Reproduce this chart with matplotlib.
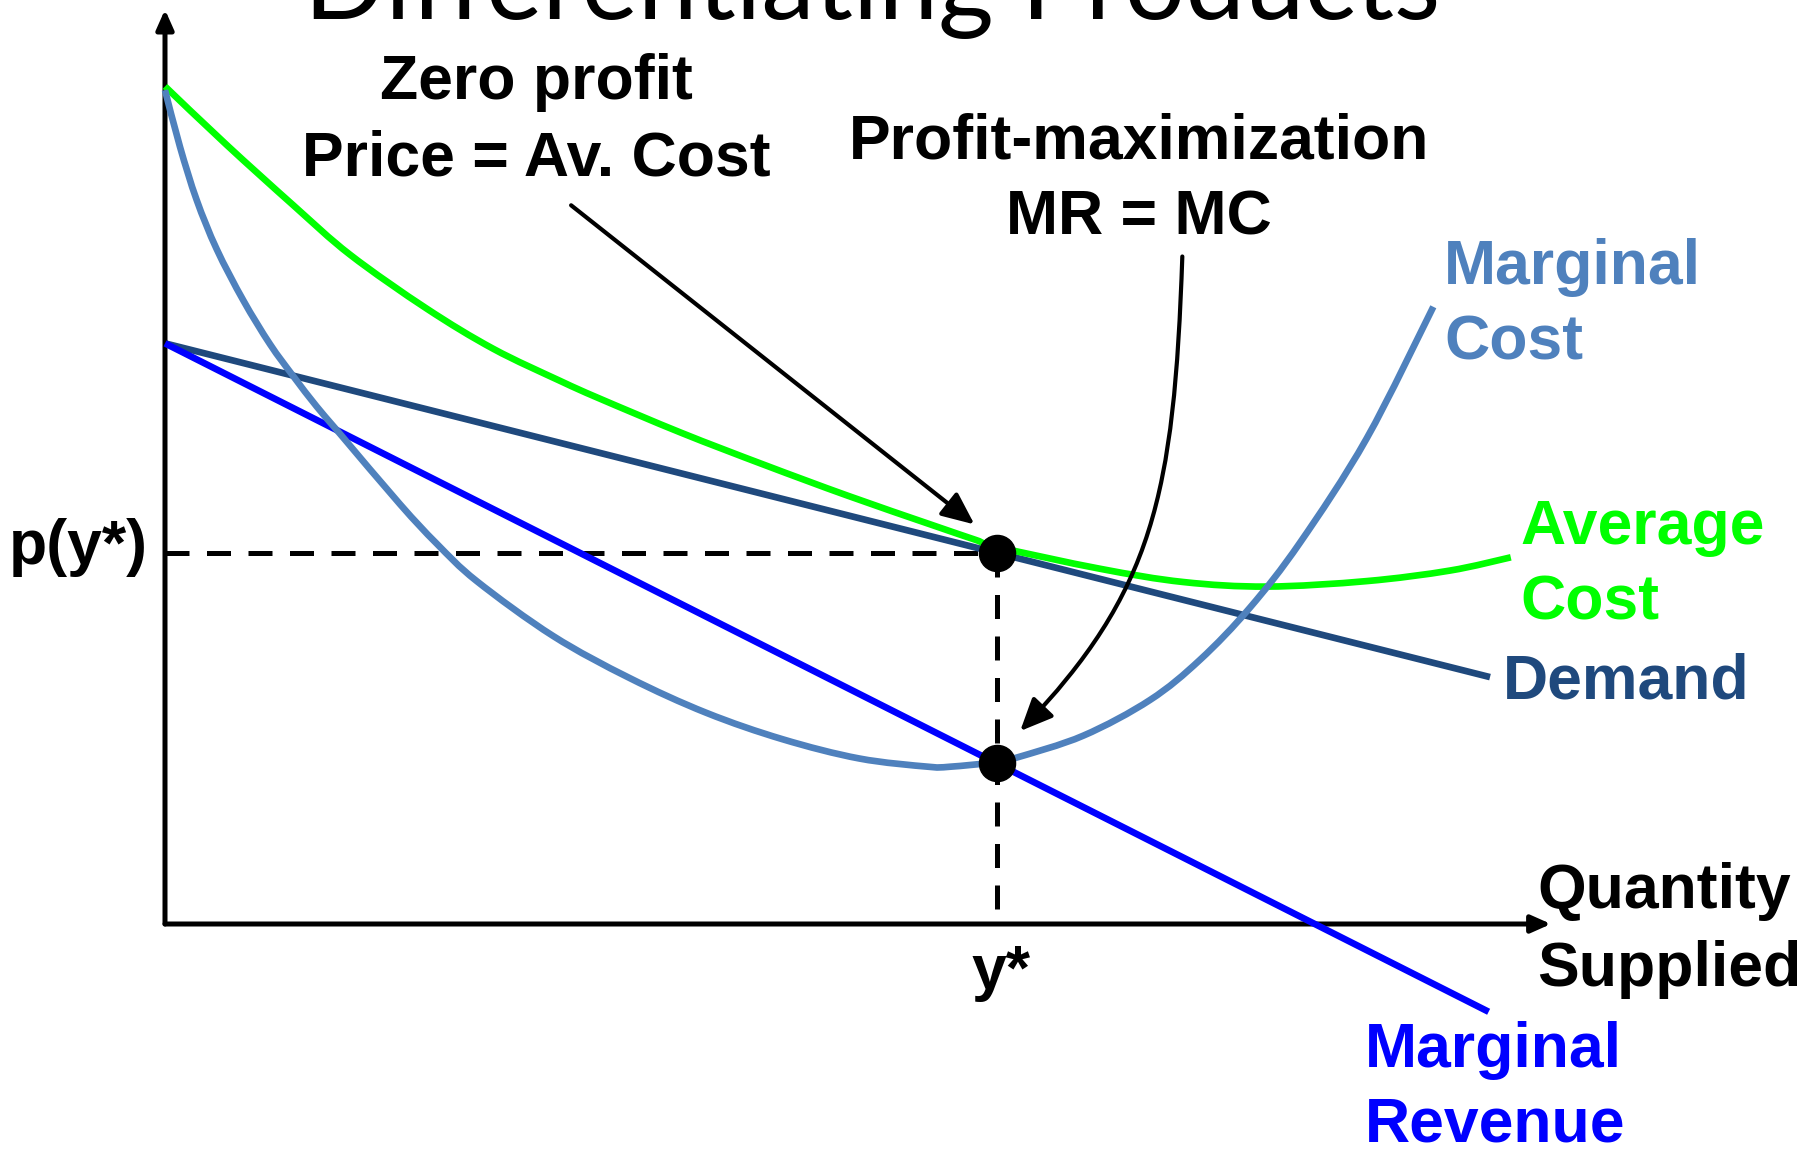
import matplotlib.pyplot as plt
from matplotlib.path import Path
from matplotlib.patches import FancyArrowPatch, PathPatch

# quantity (q) runs 0..100 along the x axis, price (p) 0..100 up the y axis
q_star = 60

demand_q = [0, 95.6]
demand_p = [63.5, 27.0]

mr_q = [0, 95.5]
mr_p = [63.5, -9.6]

ac_q = [0, 4.45, 9.26, 13.35, 18.88, 23.69, 28.5, 31.3, 37.28, 43.26, 49.24, 55.22, 58.5, 60.0,
        67.46, 73.47, 79.49, 86.7, 92.7, 97.1]
ac_p = [91.6, 85.2, 78.6, 73.2, 67.3, 62.9, 59.4, 57.5, 53.7, 50.2, 46.85, 43.7, 42.0, 41.25,
        38.85, 37.4, 36.9, 37.5, 38.65, 40.1]

mc_q = [0, 1.08, 2.28, 3.73, 5.65, 7.58, 9.26, 10.94, 12.63, 16.96, 19.6, 22.49, 28.0, 33.52,
        39.05, 44.57, 50.09, 55.06, 56.64, 60.0, 61.45, 66.26, 71.07, 74.68, 78.28, 81.89,
        86.7, 91.51]
mc_p = [91.2, 85.0, 79.2, 73.8, 68.2, 63.4, 59.9, 56.6, 53.6, 45.9, 41.6, 37.5, 31.5, 26.9,
        23.1, 20.2, 18.1, 17.2, 17.2, 17.7, 18.2, 20.6, 24.5, 28.9, 34.6, 41.7,
        53.1, 67.5]

c_mc = '#4F81BD'
c_ac = '#00FF00'
c_demand = '#1F497D'
c_mr = '#0000FF'


def smooth_path(xs, ys):
    # Catmull-Rom curve through every point, written as cubic Bezier segments
    pts = list(zip(xs, ys))
    verts = [pts[0]]
    codes = [Path.MOVETO]
    for i in range(len(pts) - 1):
        p0 = pts[max(i - 1, 0)]
        p1 = pts[i]
        p2 = pts[i + 1]
        p3 = pts[min(i + 2, len(pts) - 1)]
        c1 = (p1[0] + (p2[0] - p0[0]) / 6, p1[1] + (p2[1] - p0[1]) / 6)
        c2 = (p2[0] - (p3[0] - p1[0]) / 6, p2[1] - (p3[1] - p1[1]) / 6)
        verts += [c1, c2, p2]
        codes += [Path.CURVE4] * 3
    return Path(verts, codes)


# price and MR at y* read straight off the demand and MR lines
p_star = demand_p[0] + (demand_p[1] - demand_p[0]) * q_star / demand_q[1]
mr_star = mr_p[0] + (mr_p[1] - mr_p[0]) * q_star / mr_q[1]

fig = plt.figure(figsize=(18.08, 11.49), dpi=100)
ax = fig.add_axes([165 / 1808, 225 / 1149, 1386 / 1808, 914.4 / 1149])
ax.set_xlim(0, 100)
ax.set_ylim(0, 100)
ax.axis('off')

bold = dict(family='Liberation Sans', weight='bold', fontsize=45)

# axes with arrow heads
axis_arrow = dict(arrowstyle='-|>,head_length=0.45,head_width=0.2', lw=3.6, color='black',
                  mutation_scale=26, shrinkA=0, shrinkB=0)
ax.annotate('', xy=(100, 0), xytext=(0, 0), arrowprops=axis_arrow, annotation_clip=False)
ax.annotate('', xy=(0, 100), xytext=(0, 0), arrowprops=axis_arrow, annotation_clip=False)

# dashed guides to p(y*) and y*
dash = (0, (4.8, 3.5))
ax.plot([0, q_star], [p_star, p_star], color='black', lw=3.6, ls=dash, zorder=1)
ax.plot([q_star, q_star], [p_star, 0], color='black', lw=3.6, ls=dash, zorder=1)

lw = 4.8
ax.plot(demand_q, demand_p, color=c_demand, lw=lw, solid_capstyle='butt', zorder=2, clip_on=False)
ax.plot(mr_q, mr_p, color=c_mr, lw=lw, solid_capstyle='butt', zorder=3, clip_on=False)
ax.add_patch(PathPatch(smooth_path(ac_q, ac_p), fill=False, edgecolor=c_ac, lw=lw,
                       capstyle='butt', zorder=4, clip_on=False))
ax.add_patch(PathPatch(smooth_path(mc_q, mc_p), fill=False, edgecolor=c_mc, lw=lw,
                       capstyle='butt', zorder=5, clip_on=False))

ax.plot([q_star, q_star], [p_star, mr_star], 'o', color='black', ms=26, zorder=8, clip_on=False)

# annotation arrows
head = '-|>,head_length=0.45,head_width=0.2'
ax.add_patch(FancyArrowPatch((29.3, 78.6), (58.4, 43.7), arrowstyle=head, mutation_scale=44,
                             lw=3.0, color='black', shrinkA=0, shrinkB=0, zorder=6))
curve = Path([(73.4, 73.0), (72.8, 46.8), (71.3, 36.3), (61.7, 21.1)],
             [Path.MOVETO, Path.CURVE4, Path.CURVE4, Path.CURVE4])
ax.add_patch(FancyArrowPatch(path=curve, arrowstyle=head, mutation_scale=44,
                             lw=3.0, color='black', zorder=6))

# text
ax.text(51.0, 99.0, 'Differentiating Products', family='Lato', fontsize=77,
        ha='center', va='baseline')

ax.text(26.8, 90.2, 'Zero profit', ha='center', va='baseline', **bold)
ax.text(26.8, 81.9, 'Price = Av. Cost', ha='center', va='baseline', **bold)
ax.text(70.3, 83.7, 'Profit-maximization', ha='center', va='baseline', **bold)
ax.text(70.3, 75.4, 'MR = MC', ha='center', va='baseline', **bold)

ax.text(92.3, 70.0, 'Marginal', color=c_mc, ha='left', va='baseline', **bold)
ax.text(92.3, 61.7, 'Cost', color=c_mc, ha='left', va='baseline', **bold)
ax.text(97.8, 41.6, 'Average', color=c_ac, ha='left', va='baseline', **bold)
ax.text(97.8, 33.3, 'Cost', color=c_ac, ha='left', va='baseline', **bold)
ax.text(96.5, 24.7, 'Demand', color=c_demand, ha='left', va='baseline', **bold)
ax.text(86.6, -15.6, 'Marginal', color=c_mr, ha='left', va='baseline', **bold)
ax.text(86.6, -23.8, 'Revenue', color=c_mr, ha='left', va='baseline', **bold)

ax.text(99.0, 1.7, 'Quantity', ha='left', va='baseline', **bold)
ax.text(99.0, -6.8, 'Supplied', ha='left', va='baseline', **bold)
ax.text(-1.2, 39.4, 'p(y*)', ha='right', va='baseline', **bold)
ax.text(60.3, -7.1, 'y*', ha='center', va='baseline', **bold)

fig.savefig('out.png', dpi=100)
